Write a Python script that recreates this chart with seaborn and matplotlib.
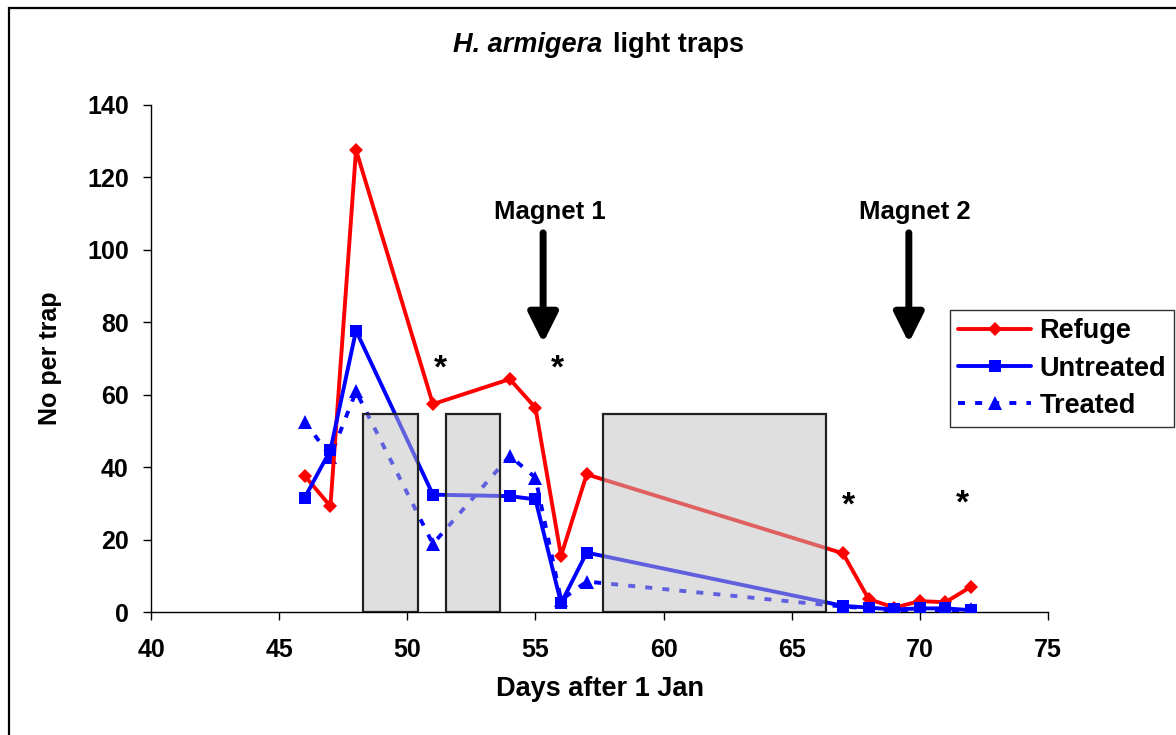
import numpy as np
import pandas as pd
import matplotlib
matplotlib.use("Agg")
import matplotlib.pyplot as plt
from matplotlib.patches import Rectangle
import seaborn as sns

# ---- data ----
days = [46, 47, 48, 51, 54, 55, 56, 57, 67, 68, 69, 70, 71, 72]
refuge = [37.6, 29.2, 127.6, 57.4, 64.3, 56.4, 15.5, 38.0, 16.2, 3.6, 1.2, 3.0, 2.7, 7.0]
untreated = [31.6, 44.7, 77.7, 32.4, 32.0, 31.1, 2.4, 16.4, 1.7, 1.2, 0.7, 1.0, 1.0, 0.5]
treated = [52.6, 42.9, 60.9, 18.8, 43.1, 37.1, 3.3, 8.4, 1.5, 1.0, 0.3, 0.8, 0.3, 0.8]
series_names = ["Refuge", "Untreated", "Treated"]

# shaded periods (start day, end day, height)
shade_start = [48.27, 51.51, 57.64]
shade_end = [50.42, 53.62, 66.34]
shade_height = [54.7, 54.7, 54.7]

# magnet applications
magnet_labels = ["Magnet 1", "Magnet 2"]
magnet_days = [55.3, 69.57]

# significance stars
star_x = [51.28, 55.84, 67.2, 71.68]
star_y = [69.6, 69.6, 31.8, 32.3]

xticks = [40, 45, 50, 55, 60, 65, 70, 75]
yticks = [0, 20, 40, 60, 80, 100, 120, 140]

df = pd.DataFrame({"day": days, "Refuge": refuge, "Untreated": untreated, "Treated": treated})

sns.set_theme(style="white")
plt.rcParams["font.family"] = ["Liberation Sans", "DejaVu Sans"]
plt.rcParams.update({"text.color": "black", "axes.labelcolor": "black",
                     "xtick.color": "black", "ytick.color": "black"})

W, H = 1176, 735
fig = plt.figure(figsize=(W / 100, H / 100), dpi=100)
fig.patch.set_facecolor("white")
ax = fig.add_axes([151 / W, 1 - 612 / H, (1048 - 151) / W, (612 - 105) / H])
ax.set_facecolor("white")

LW = 2.8
sns.lineplot(data=df, x="day", y="Refuge", ax=ax, color="#ff0000", marker="D",
             markersize=7, markeredgewidth=0, linewidth=LW, label=series_names[0], zorder=3)
sns.lineplot(data=df, x="day", y="Untreated", ax=ax, color="#0000ff", marker="s",
             markersize=8, markeredgewidth=0, linewidth=LW, label=series_names[1], zorder=3)
sns.lineplot(data=df, x="day", y="Treated", ax=ax, color="#0000ff", marker="^",
             markersize=9.5, markeredgewidth=0, linewidth=LW, linestyle=(0, (1.8, 2.6)),
             dash_capstyle="butt", label=series_names[2], zorder=2.9)

for s, e, h in zip(shade_start, shade_end, shade_height):
    ax.add_patch(Rectangle((s, 0), e - s, h, facecolor=(0.753, 0.753, 0.753, 0.5),
                           edgecolor="#222222", linewidth=1.6, zorder=4))

ax.set_xlim(40, 75)
ax.set_ylim(0, 140)
ax.set_xticks(xticks)
ax.set_yticks(yticks)
for sp in ["top", "right"]:
    ax.spines[sp].set_visible(False)
for sp in ["left", "bottom"]:
    ax.spines[sp].set_color("black")
    ax.spines[sp].set_linewidth(1.0)
ax.tick_params(axis="both", direction="out", length=6, width=1.0, color="black",
               labelsize=18)
ax.tick_params(axis="x", pad=13)
ax.tick_params(axis="y", pad=10)
ax.tick_params(left=True, bottom=True)
for lab in ax.get_xticklabels() + ax.get_yticklabels():
    lab.set_fontweight("bold")

ax.set_xlabel("Days after 1 Jan", fontsize=19.5, fontweight="bold", labelpad=10)
ax.set_ylabel("No per trap", fontsize=18, fontweight="bold", labelpad=18)

# magnets
for lab, d in zip(magnet_labels, magnet_days):
    ax.annotate("", xy=(d, 74.3), xytext=(d, 104.7),
                arrowprops=dict(arrowstyle="-|>,head_width=0.45,head_length=0.9",
                                lw=5, color="black", shrinkA=0, shrinkB=0,
                                mutation_scale=20))
    ax.text(d + 0.25, 110.5, lab, ha="center", va="center", fontsize=18.5,
            fontweight="bold", color="black")

for x, y in zip(star_x, star_y):
    ax.text(x, y - 2.5, "*", ha="center", va="center", fontsize=24, fontweight="bold",
            color="black")

# legend
leg = ax.legend(loc="upper left", bbox_to_anchor=(950 / W, 1 - 310 / H),
                bbox_transform=fig.transFigure, fontsize=19.5, frameon=True,
                fancybox=False, edgecolor="black", handlelength=2.7,
                handletextpad=0.3, labelspacing=0.42, borderpad=0.3,
                borderaxespad=0)
leg.get_frame().set_linewidth(1.0)
for t in leg.get_texts():
    t.set_fontweight("bold")

# title
fig.text(602 / W, 1 - 45 / H, "H. armigera", ha="right", va="center",
         fontsize=19.5, style="italic", fontweight="bold")
fig.text(613 / W, 1 - 45 / H, "light traps", ha="left", va="center",
         fontsize=19.5, fontweight="bold")

# figure border (clipped at the right and bottom edges)
fig.add_artist(Rectangle((9 / W, -0.2), 1.3, (1 - 8 / H) + 0.2,
                         transform=fig.transFigure, fill=False, edgecolor="black",
                         linewidth=1.6))

fig.savefig("out.png", dpi=100)
